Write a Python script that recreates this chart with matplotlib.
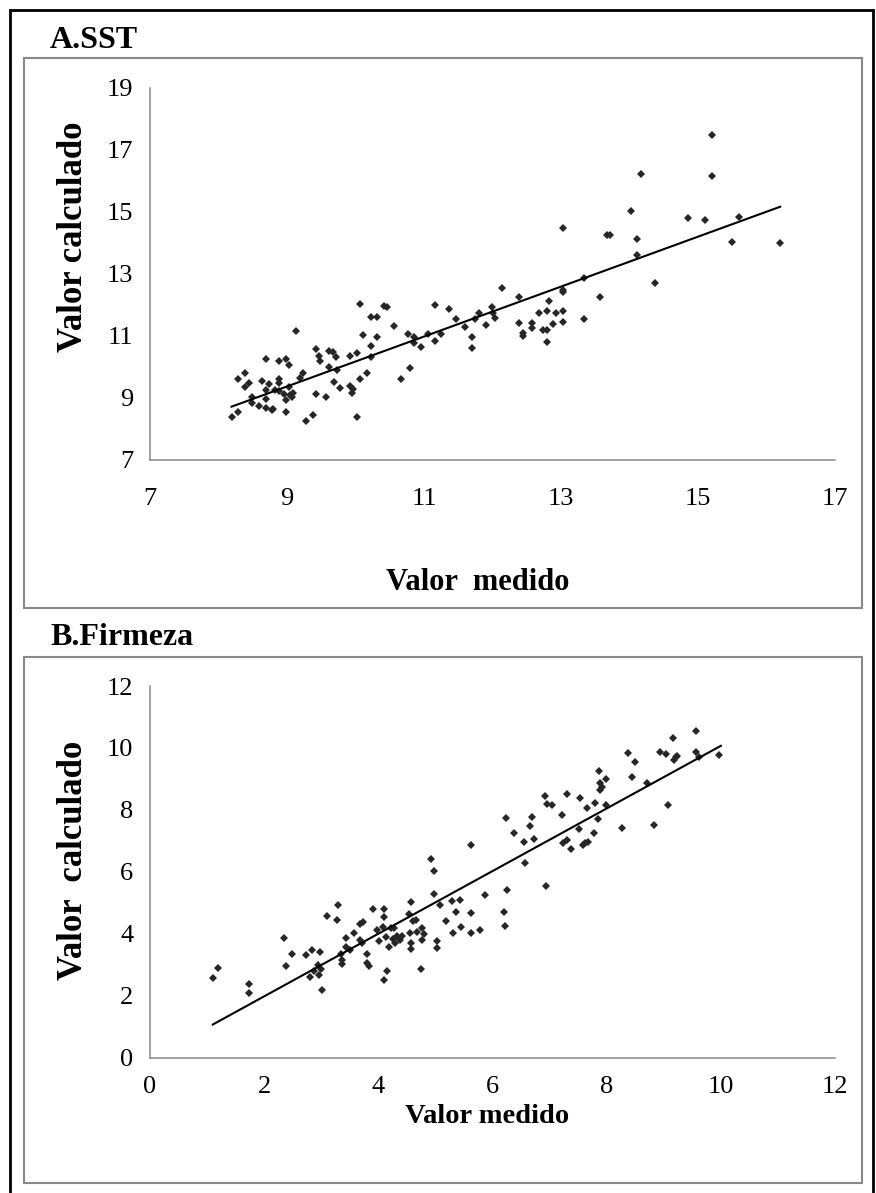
import matplotlib.pyplot as plt
from matplotlib.patches import Rectangle

# Data *********************************************************************

# A. SST (measured vs calculated)
sstMedido = [10.07, 10.41, 10.46, 10.22, 10.31, 9.13, 10.11, 10.31, 10.22, 9.43,
             9.62, 9.67, 9.72, 10.02, 9.92, 9.47, 9.48, 8.69, 8.88, 8.99,
             9.03, 10.22, 9.62, 9.73, 8.39, 8.29, 8.44, 8.39, 8.64, 8.74,
             8.88, 8.88, 8.69, 8.82, 8.88, 9.03, 9.23, 9.19, 8.95, 9.04,
             9.07, 9.09, 8.49, 8.49, 8.69, 8.59, 8.69, 8.80, 8.78, 8.99,
             8.99, 8.19, 8.29, 9.28, 9.38, 9.43, 9.57, 9.68, 9.77, 9.92,
             9.96, 9.95, 10.02, 10.07, 10.17,
             10.56, 11.16, 11.36, 10.76, 10.86, 10.86, 10.96, 11.06, 11.16, 11.25,
             11.46, 11.60, 11.70, 11.70, 11.75, 11.80, 11.90, 11.99, 12.01, 12.04,
             12.39, 12.39, 12.44, 12.44, 12.58, 12.58, 12.68, 12.79, 12.83, 12.73,
             12.79, 12.79, 12.88, 12.93, 13.03, 13.03, 13.03, 13.03, 13.33, 13.57,
             10.80, 10.66, 12.14, 13.33, 13.03,
             15.20, 14.17, 15.20, 14.02, 14.85, 15.10, 15.60, 13.67, 13.72, 14.11,
             14.11, 15.50, 16.19, 14.37]
sstCalculado = [12.03, 11.97, 11.93, 11.60, 11.60, 11.15, 11.04, 10.96, 10.68, 10.59,
                10.53, 10.49, 10.33, 10.44, 10.35, 10.35, 10.20, 10.26, 10.19, 10.25,
                10.06, 10.31, 10.01, 9.90, 9.82, 9.60, 9.47, 9.36, 9.56, 9.45,
                9.60, 9.47, 9.26, 9.26, 9.24, 9.35, 9.80, 9.64, 9.13, 9.10,
                9.04, 9.15, 9.02, 8.85, 8.96, 8.74, 8.69, 8.63, 8.61, 8.94,
                8.55, 8.40, 8.56, 8.26, 8.44, 9.14, 9.03, 9.53, 9.31, 9.40,
                9.30, 9.15, 8.40, 9.61, 9.82,
                11.33, 12.00, 11.88, 11.05, 10.98, 10.78, 10.65, 11.05, 10.84, 11.05,
                11.54, 11.30, 10.96, 10.62, 11.54, 11.73, 11.35, 11.94, 11.75, 11.57,
                12.27, 11.41, 11.10, 11.00, 11.43, 11.25, 11.73, 11.82, 12.12, 11.19,
                11.19, 10.82, 11.39, 11.75, 11.80, 11.45, 12.43, 12.48, 11.54, 12.27,
                9.97, 9.60, 12.55, 12.88, 14.50,
                17.50, 16.22, 16.15, 15.03, 14.80, 14.74, 14.83, 14.26, 14.26, 14.14,
                13.62, 14.02, 14.00, 12.71]
sstTrendX = [8.19, 16.20]
sstTrendY = [8.72, 15.17]

# B. Firmeza (measured vs calculated)
firMedido = [1.10, 1.19, 1.73, 1.74, 2.34, 2.38, 2.48, 2.73, 2.84, 2.98,
             2.88, 2.94, 3.00, 2.96, 2.80, 3.01, 3.10, 3.30, 3.27, 3.35,
             3.36, 3.36, 3.43, 3.43, 3.50, 3.58, 3.68, 3.73, 3.68, 3.71,
             3.80, 3.81, 3.84, 3.90, 3.97, 4.02, 4.10, 4.10, 4.09, 4.13,
             4.16, 4.10, 4.19, 4.25, 4.28, 4.33, 4.30, 4.22, 4.42, 4.38,
             4.54, 4.57, 4.61, 4.66, 4.55, 4.68, 4.77, 4.80, 4.77, 4.57,
             4.58, 4.74, 4.93, 4.97, 4.97, 5.08, 5.02, 5.03, 5.18, 5.29,
             5.43, 5.36, 5.45, 5.31, 5.63, 5.63, 5.63, 5.78, 5.86, 6.21,
             6.22, 6.26, 6.23, 6.37, 6.55, 6.57, 6.66, 6.70, 6.73, 6.94,
             6.92, 6.95, 7.05, 7.21, 7.24, 7.30, 7.38, 7.30, 7.51, 7.53,
             7.58, 7.62, 7.67, 7.66, 7.78, 7.80, 7.84, 7.87, 7.88, 7.91,
             7.99, 7.88, 7.98, 8.26, 8.38, 8.49, 8.45, 8.70, 8.93, 9.04,
             9.07, 8.83, 9.16, 9.22, 9.24, 9.18, 9.57, 9.57, 9.61, 9.96]
firCalculado = [2.59, 2.89, 2.38, 2.11, 3.86, 2.96, 3.37, 3.33, 3.48, 3.41,
                2.82, 3.00, 2.87, 2.69, 2.62, 2.18, 4.59, 4.95, 4.44, 3.35,
                3.16, 3.02, 3.86, 3.57, 3.50, 4.02, 4.32, 4.38, 3.81, 3.70,
                3.35, 3.05, 2.97, 4.80, 4.13, 3.76, 4.80, 4.56, 4.22, 3.91,
                2.81, 2.52, 3.57, 3.85, 4.18, 3.95, 3.70, 4.19, 3.95, 3.80,
                4.65, 5.02, 4.43, 4.45, 4.02, 4.07, 4.20, 3.99, 3.81, 3.70,
                3.51, 2.87, 6.42, 6.03, 5.30, 4.95, 3.78, 3.55, 4.42, 5.07,
                5.10, 4.72, 4.24, 4.02, 6.87, 4.67, 4.02, 4.13, 5.27, 4.70,
                4.26, 5.42, 7.74, 7.25, 6.97, 6.28, 7.49, 7.78, 7.06, 5.55,
                8.44, 8.20, 8.17, 7.84, 6.93, 7.03, 6.73, 8.52, 7.38, 8.40,
                6.87, 6.93, 6.98, 8.05, 7.25, 8.22, 7.70, 9.26, 8.88, 8.73,
                8.99, 8.65, 8.17, 7.41, 9.84, 9.56, 9.05, 8.88, 9.86, 9.81,
                8.16, 7.51, 10.31, 9.72, 9.74, 9.61, 10.56, 9.87, 9.70, 9.78]
firTrendX = [1.10, 10.00]
firTrendY = [1.08, 10.07]

# Figure ********************************************************************

W, H = 876, 1193
fig = plt.figure(figsize=(W / 100, H / 100), dpi=100)

SERIF = ["Liberation Serif", "DejaVu Serif"]
AXIS_GRAY = "#898989"


def box(x0, y0, x1, y1, color, lw):
    # rectangle given in pixel coords (origin top-left)
    fig.add_artist(Rectangle((x0 / W, 1 - y1 / H), (x1 - x0) / W, (y1 - y0) / H,
                             transform=fig.transFigure, fill=False,
                             edgecolor=color, linewidth=lw))


def panel(top, bottom, xs, ys, tx, ty, xlim, ylim, step, xpad,
          xlabel, ylabel, xlabPos, ylabPos, xlabSize):
    ax = fig.add_axes([150 / W, 1 - bottom / H, 685 / W, (bottom - top) / H])
    ax.plot(xs, ys, linestyle="none", marker="D", markersize=4,
            color="#262626", markeredgewidth=0)
    ax.plot(tx, ty, color="black", linewidth=1.5)
    ax.set_xlim(*xlim)
    ax.set_ylim(*ylim)
    ax.set_xticks(range(xlim[0], xlim[1] + 1, step))
    ax.set_yticks(range(ylim[0], ylim[1] + 1, step))
    for s in ["top", "right"]:
        ax.spines[s].set_visible(False)
    for s in ["left", "bottom"]:
        ax.spines[s].set_color(AXIS_GRAY)
        ax.spines[s].set_linewidth(1.1)
    ax.tick_params(length=0, labelsize=19)
    ax.tick_params(axis="y", pad=12)
    ax.tick_params(axis="x", pad=xpad)
    for lab in ax.get_xticklabels() + ax.get_yticklabels():
        lab.set_family(SERIF)
    ax.text(xlabPos[0], xlabPos[1], xlabel, transform=ax.transAxes,
            ha="center", va="center", fontsize=xlabSize, fontweight="bold", family=SERIF)
    ax.text(ylabPos[0], ylabPos[1], ylabel, transform=ax.transAxes, rotation=90,
            ha="center", va="center", fontsize=25, fontweight="bold", family=SERIF)
    return ax


# outer border and the two chart boxes
box(10, 10, 873, 1200, "black", 2.0)
box(24, 58, 862, 608, AXIS_GRAY, 1.5)
box(24, 657, 862, 1183, AXIS_GRAY, 1.5)

fig.text(50 / W, 1 - 48 / H, "A.SST", ha="left", va="baseline",
         fontsize=23, fontweight="bold", family=SERIF)
fig.text(50 / W, 1 - 645 / H, "B.Firmeza", ha="left", va="baseline",
         fontsize=23, fontweight="bold", family=SERIF)

panel(88, 460, sstMedido, sstCalculado, sstTrendX, sstTrendY,
      (7, 17), (7, 19), 2, 20, "Valor  medido", "Valor calculado",
      (0.479, -0.33), (-0.112, 0.60), 22)
panel(686, 1058, firMedido, firCalculado, firTrendX, firTrendY,
      (0, 12), (0, 12), 2, 13, "Valor medido", "Valor  calculado",
      (0.492, -0.156), (-0.112, 0.532), 20.5)

plt.savefig("out.png", dpi=100)
